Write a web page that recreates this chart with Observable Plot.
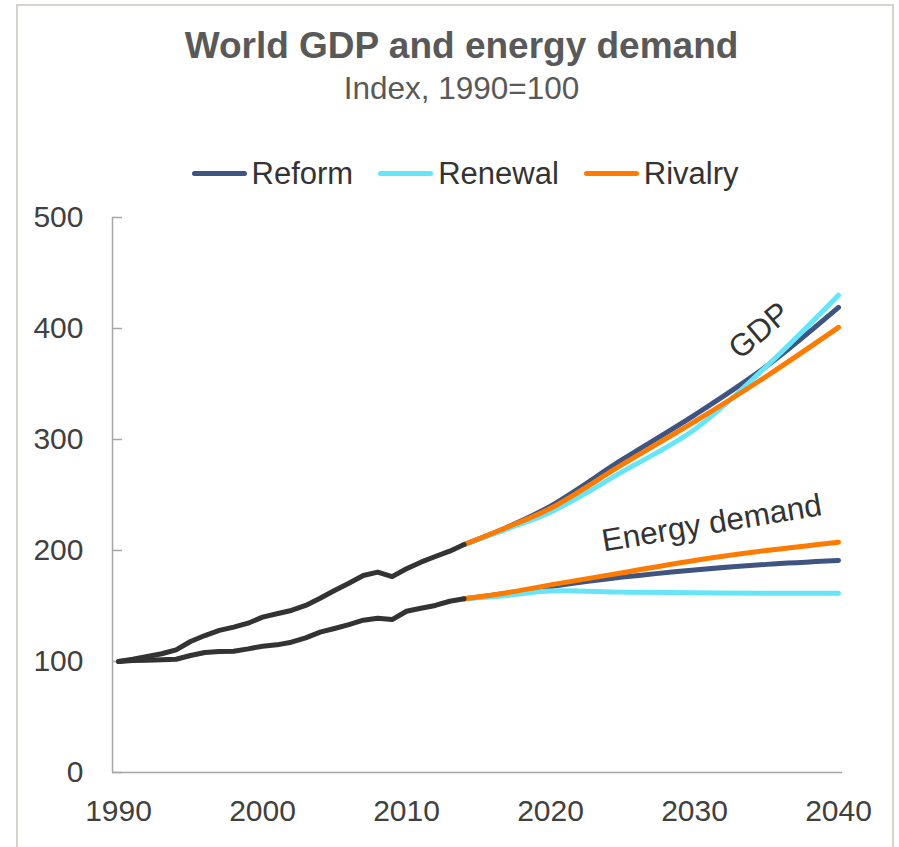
<!DOCTYPE html>
<html>
<head>
<meta charset="utf-8">
<script src="https://cdn.jsdelivr.net/npm/d3@7"></script>
<script src="https://cdn.jsdelivr.net/npm/@observablehq/plot@0.6"></script>
<style>
  html, body { margin: 0; padding: 0; background: #fff; }
  body { width: 899px; height: 847px; position: relative; overflow: hidden; font-family: "Liberation Sans", Arial, sans-serif; }
  #frame { position: absolute; left: 16px; top: 4px; width: 878px; height: 900px; border: 2px solid #d6d2ce; box-sizing: border-box; }
  .t { position: absolute; left: 0; width: 923px; text-align: center; line-height: 1; white-space: nowrap; }
  #title { top: 27px; font-size: 37px; font-weight: bold; color: #595959; }
  #subtitle { top: 73px; font-size: 31.5px; color: #595959; }
  #legend { position: absolute; top: 158px; left: 0; width: 930px; display: flex; justify-content: center; gap: 25px; font-size: 31px; line-height: 1; color: #333; }
  .item { display: flex; align-items: center; }
  .sw { display: inline-block; width: 55px; height: 5px; border-radius: 3px; margin-right: 5px; }
  #chart { position: absolute; left: 0; top: 200px; }
</style>
</head>
<body>
<div id="frame"></div>
<div class="t" id="title">World GDP and energy demand</div>
<div class="t" id="subtitle">Index, 1990=100</div>
<div id="legend"></div>
<div id="chart"></div>
<script>
// Historical data (1990-2014)
const histYears = [1990,1991,1992,1993,1994,1995,1996,1997,1998,1999,2000,2001,2002,2003,2004,2005,2006,2007,2008,2009,2010,2011,2012,2013,2014];
const gdpHist = [100,102,104.5,107,110.5,118,123.4,128,131,134.5,140,143,146,150.5,157,164,170.5,177.5,180.5,176.5,183.5,189.5,194.6,199.4,205.4];
const energyHist = [100,100.9,101.2,101.5,102,105.4,108.1,109,109.3,111.4,113.8,115,117.4,121.3,126.4,129.7,133.3,137.2,139,137.8,145.3,148,150.5,154.3,156.5];

// Projections
const projYears = [2014, 2017, 2020, 2025, 2030, 2035, 2040];
const gdpReform  = [205.4, 221, 240, 282, 322, 366, 419];
const gdpRenewal = [205.4, 219.5, 234.5, 271, 309, 366, 430];
const gdpRivalry = [205.4, 221, 238, 277.5, 316, 357, 401];
const energyReform  = [156.5, 161.5, 167.5, 176, 182.5, 187.5, 191];
const energyRenewal = [156.5, 159.5, 163.5, 162.5, 162, 161.5, 161.5];
const energyRivalry = [156.5, 162, 169, 180, 191, 200, 207.5];

const scenarios = ["Reform", "Renewal", "Rivalry"];
const colors = ["#3f5481", "#66e4f8", "#ff7b00"];
const histColor = "#333333";

const yTicks = [0, 100, 200, 300, 400, 500];
const xTicks = [1990, 2000, 2010, 2020, 2030, 2040];

// Annotation labels
const labelText = ["GDP", "Energy demand"];
const labelYear = [2034.5, 2031.2];
const labelValue = [398, 224.5];
const labelAngle = [-40, -9.5];

// Build tables
const projSeries = {
  Reform: [gdpReform, energyReform],
  Renewal: [gdpRenewal, energyRenewal],
  Rivalry: [gdpRivalry, energyRivalry]
};
const proj = [];
scenarios.forEach(s => {
  ["GDP", "Energy"].forEach((m, mi) => {
    projYears.forEach((yr, i) => proj.push({scenario: s, measure: m, key: s + m, year: yr, value: projSeries[s][mi][i]}));
  });
});
const hist = [];
histYears.forEach((yr, i) => hist.push({measure: "GDP", year: yr, value: gdpHist[i]}));
histYears.forEach((yr, i) => hist.push({measure: "Energy", year: yr, value: energyHist[i]}));
const labels = labelText.map((t, i) => ({text: t, year: labelYear[i], value: labelValue[i], angle: labelAngle[i]}));

// Legend
const legend = document.getElementById("legend");
scenarios.forEach((s, i) => {
  const it = document.createElement("div");
  it.className = "item";
  it.innerHTML = `<span class="sw" style="background:${colors[i]}"></span><span>${s}</span>`;
  legend.appendChild(it);
});

const axisColor = "#a6a6a6";
const chart = Plot.plot({
  width: 899,
  height: 647,
  marginTop: 17,
  marginBottom: 75,
  marginLeft: 112,
  marginRight: 57,
  x: {domain: [1990, 2040], insetLeft: 6, insetRight: 4},
  y: {domain: [0, 500]},
  color: {domain: scenarios, range: colors},
  style: {fontFamily: "'Liberation Sans', Arial, sans-serif", background: "transparent", overflow: "visible"},
  marks: [
    Plot.axisY({ticks: yTicks, tickSize: 0, tickPadding: 29, fontSize: 30, fill: "#404040", tickFormat: d => String(d), label: null}),
    Plot.axisY({ticks: yTicks, tickSize: -10, fill: "none", stroke: axisColor, strokeWidth: 1.5, label: null}),
    Plot.axisX({ticks: xTicks, tickSize: 0, tickPadding: 27, fontSize: 30, fill: "#404040", tickFormat: d => String(d), label: null}),
    Plot.ruleY([0], {stroke: axisColor, strokeWidth: 1.5}),
    Plot.ruleX([1990], {dx: -6, stroke: axisColor, strokeWidth: 1.5}),
    Plot.line(proj, {x: "year", y: "value", z: "key", stroke: "scenario", strokeWidth: 5, curve: "catmull-rom", strokeLinecap: "round"}),
    Plot.line(hist, {x: "year", y: "value", z: "measure", stroke: histColor, strokeWidth: 5, strokeLinecap: "round", strokeLinejoin: "round"}),
    Plot.text(labels, {x: "year", y: "value", text: "text", rotate: "angle", fontSize: 31.5, fill: "#333", textAnchor: "middle", lineAnchor: "middle"})
  ]
});
document.getElementById("chart").appendChild(chart);
</script>
</body>
</html>
